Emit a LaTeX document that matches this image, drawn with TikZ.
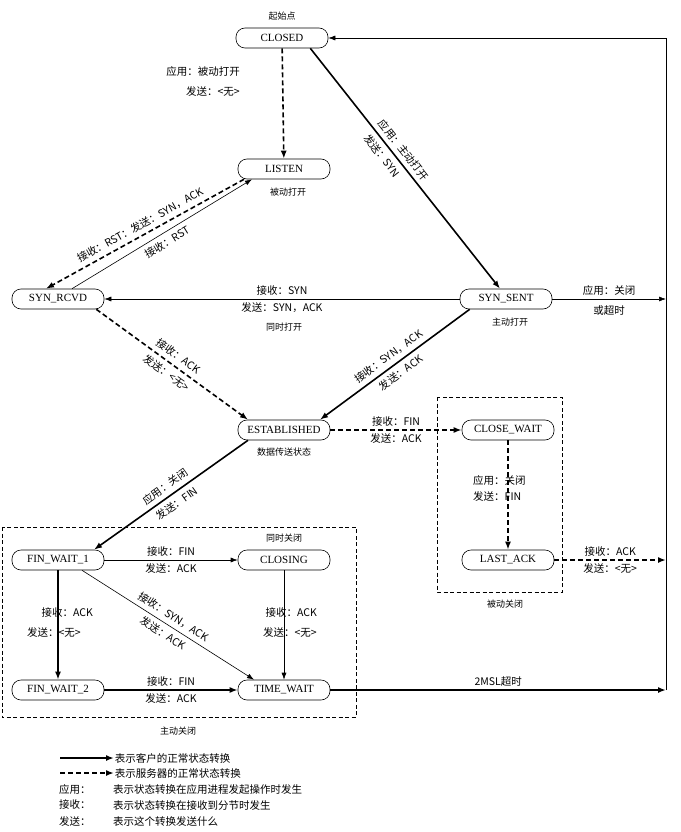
\documentclass[tikz,border=0pt]{standalone}
\usepackage{fontspec}
\setmainfont{Liberation Serif}
\newfontfamily\cjk{Noto Sans CJK SC}
\usetikzlibrary{arrows.meta}
\begin{document}
\begin{tikzpicture}[x=1pt,y=-1pt,
  st/.style={draw,rounded corners=9pt,minimum width=92pt,minimum height=20pt,inner sep=1pt,font=\fontsize{11}{12}\selectfont,line width=0.6pt},
  lb/.style={font=\cjk\fontsize{10.5}{12}\selectfont,inner sep=3pt},
  sl/.style={lb,sloped,inner sep=4.5pt},
  nt/.style={font=\cjk\fontsize{9}{11}\selectfont},
  cli/.style={line width=1.6pt,-{Latex[length=8pt,width=6pt]}},
  srv/.style={line width=1.6pt,dash pattern=on 5pt off 3pt,-{Latex[length=8pt,width=6pt]}},
  thn/.style={line width=0.6pt,-{Latex[length=7pt,width=5pt]}},
  box/.style={draw,dash pattern=on 4pt off 2.5pt,line width=0.5pt}]
\useasboundingbox (0,0) rectangle (680,832);
\node[st] (closed) at (282,38) {CLOSED};
\node[st] (listen) at (284,169) {LISTEN};
\node[st] (rcvd) at (58,299) {SYN\_RCVD};
\node[st] (sent) at (506,299) {SYN\_SENT};
\node[st] (est) at (284,430) {ESTABLISHED};
\node[st] (cw) at (508,430) {CLOSE\_WAIT};
\node[st] (fw1) at (58,560) {FIN\_WAIT\_1};
\node[st] (cls) at (284,560) {CLOSING};
\node[st] (la) at (508,560) {LAST\_ACK};
\node[st] (fw2) at (58,690) {FIN\_WAIT\_2};
\node[st] (tw) at (284,690) {TIME\_WAIT};
\coordinate (rtop) at (666,38);
\coordinate (rsent) at (666,299);
\coordinate (rla) at (666,560);
\coordinate (rtw) at (666,690);
% notes
\node[nt] at (282,16) {起始点};
\node[nt] at (288,192) {被动打开};
\node[nt] at (510,322) {主动打开};
\node[nt] at (284,452) {数据传送状态};
\node[nt] at (284,538) {同时关闭};
\node[nt] at (505,604) {被动关闭};
\node[nt] at (178,731) {主动关闭};
% boxes
\draw[box] (437,397) rectangle (562,592);
\draw[box] (2,527) rectangle (356,717);
% right line
\draw[line width=0.8pt] (rtw) -- (rtop);
\draw[thn] (rtop) -- (closed);
% edges
\draw[srv] (closed) -- (listen);
\node[lb,anchor=east] at (243,72) {应用：被动打开};
\node[lb,anchor=east] at (243,92) {发送：<无>};
\draw[cli] ([xshift=-18pt]closed.south east) -- ([xshift=-6pt]sent.north)
  node[pos=0.45,sl,above]{应用：主动打开} node[pos=0.42,sl,below]{发送：SYN};
\draw[srv] ([xshift=-40pt]listen.south) -- ([xshift=-12pt]rcvd.north) node[midway,sl,above]{接收：RST：发送：SYN，ACK};
\draw[thn] ([xshift=14pt]rcvd.north) -- ([xshift=-32pt]listen.south) node[midway,sl,below]{接收：RST};
\draw[thn] (sent) -- (rcvd) node[midway,above,lb]{接收：SYN} node[midway,below,lb]{发送：SYN，ACK};
\node[nt] at (284,327) {同时打开};
\draw[thn] (sent) -- (rsent) node[midway,above,lb]{应用：关闭} node[midway,below,lb,inner sep=6pt]{或超时};
\draw[srv] ([xshift=-8pt]rcvd.south east) -- ([xshift=-36pt]est.north) node[midway,sl,above]{接收：ACK} node[midway,sl,below]{发送：<无>};
\draw[cli] ([xshift=10pt]sent.south west) -- ([xshift=36pt]est.north) node[midway,sl,above]{接收：SYN，ACK} node[midway,sl,below]{发送：ACK};
\draw[srv] (est) -- (cw) node[midway,above,lb]{接收：FIN} node[midway,below,lb]{发送：ACK};
\draw[srv] (cw) -- (la);
\node[lb,anchor=west] at (470,480) {应用：关闭};
\node[lb,anchor=west] at (470,496) {发送：FIN};
\draw[srv] (la) -- (rla) node[midway,above,lb]{接收：ACK} node[midway,below,lb]{发送：<无>};
\draw[cli] ([xshift=-36pt]est.south) -- ([xshift=36pt]fw1.north) node[midway,sl,above]{应用：关闭} node[midway,sl,below]{发送：FIN};
\draw[thn] (fw1) -- (cls) node[midway,above,lb]{接收：FIN} node[midway,below,lb]{发送：ACK};
\draw[cli] (fw1) -- (fw2);
\node[lb,anchor=east] at (96,613) {接收：ACK};
\node[lb,anchor=east] at (84,632) {发送：<无>};
\draw[thn] ([xshift=24pt]fw1.south) -- ([xshift=-30pt]tw.north) node[midway,sl,above]{接收：SYN，ACK} node[midway,sl,below]{发送：ACK};
\draw[thn] (cls) -- (tw);
\node[lb,anchor=east] at (320,613) {接收：ACK};
\node[lb,anchor=east] at (320,632) {发送：<无>};
\draw[cli] (fw2) -- (tw) node[midway,above,lb]{接收：FIN} node[midway,below,lb]{发送：ACK};
\draw[cli] (tw) -- (rtw) node[midway,above,lb]{2MSL超时};
% legend
\coordinate (l1a) at (60,758); \coordinate (l1b) at (114,758);
\coordinate (l2a) at (60,773); \coordinate (l2b) at (114,773);
\draw[cli] (l1a) -- (l1b) node[right,lb,inner sep=0pt]{表示客户的正常状态转换};
\draw[srv] (l2a) -- (l2b) node[right,lb,inner sep=0pt]{表示服务器的正常状态转换};
\node[lb,anchor=west] at (56,789) {应用：};
\node[lb,anchor=west] at (110,789) {表示状态转换在应用进程发起操作时发生};
\node[lb,anchor=west] at (56,805) {接收：};
\node[lb,anchor=west] at (110,805) {表示状态转换在接收到分节时发生};
\node[lb,anchor=west] at (56,821) {发送：};
\node[lb,anchor=west] at (110,821) {表示这个转换发送什么};
\end{tikzpicture}
\end{document}
